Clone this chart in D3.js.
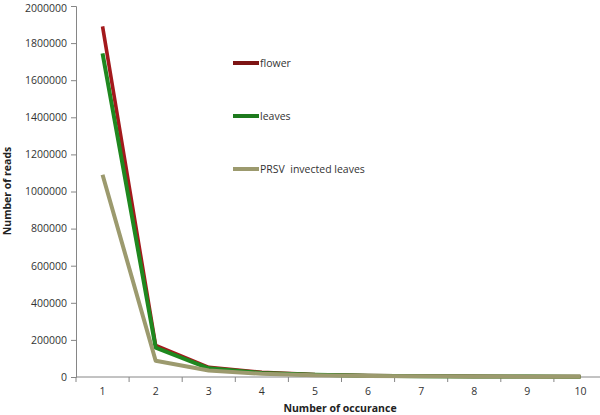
<!DOCTYPE html>
<html><head><meta charset="utf-8">
<script src="https://cdn.jsdelivr.net/npm/d3@7"></script>
<style>body{margin:0;background:#fff}svg{display:block}</style>
</head><body>
<svg id="c" width="600" height="415"></svg>
<script>
const categories = [1,2,3,4,5,6,7,8,9,10];
const flower = [1890000, 170000, 52000, 25000, 13000, 8000, 5000, 3500, 2500, 2000];
const leaves = [1745000, 158000, 47000, 22000, 12000, 7000, 4500, 3000, 2200, 1800];
const prsv   = [1090000, 88000, 35000, 17000, 10000, 6000, 4000, 2800, 2000, 1600];
const seriesNames = ["flower", "leaves", "PRSV  invected leaves"];
const yTicks = [0,200000,400000,600000,800000,1000000,1200000,1400000,1600000,1800000,2000000];

const svg = d3.select("#c");
const font = "'Open Sans', 'Liberation Sans', sans-serif";
const axisColor = "#868686";

const x = d3.scaleBand().domain(categories).range([76, 607]);
const y = d3.scaleLinear().domain([0, 2000000]).range([377, 6]);

// Y axis
const ya = svg.append("g").attr("transform","translate(76,0)")
  .call(d3.axisLeft(y).tickValues(yTicks).tickSize(5).tickPadding(4).tickFormat(d3.format("d")));
ya.select(".domain").attr("stroke", axisColor);
ya.selectAll(".tick line").attr("stroke", axisColor);
ya.selectAll("text").attr("font-family", font).attr("font-size", 10.5).attr("fill","#333");
ya.selectAll(".tick").filter(d => d === 2000000).select("text").attr("dy", "0.5em");

// X axis
const xa = svg.append("g").attr("transform","translate(0,377)")
  .call(d3.axisBottom(x).tickSize(0).tickPadding(11));
xa.select(".domain").attr("stroke", axisColor).attr("d","M76,0H607");
xa.selectAll(".tick line").remove();
xa.selectAll("text").attr("font-family", font).attr("font-size", 10.5).attr("fill","#333");
// category boundary ticks
const bounds = categories.map(c => x(c));
xa.selectAll(".bt").data(bounds).enter().append("line")
  .attr("x1", d=>d).attr("x2", d=>d).attr("y1",0).attr("y2",5).attr("stroke", axisColor);

// Lines
const line = d3.line().x((d,i)=>x(categories[i]) + x.bandwidth()/2).y(d=>y(d));
const series = [
  {name: seriesNames[0], values: flower, color: "#a3191c", w: 3.6},
  {name: seriesNames[1], values: leaves, color: "#1f881f", w: 4},
  {name: seriesNames[2], values: prsv,   color: "#9c9a6e", w: 4}
];
series.forEach(s => {
  svg.append("path").datum(s.values).attr("d", line)
    .attr("fill","none").attr("stroke", s.color).attr("stroke-width", s.w)
    .attr("stroke-linejoin","round");
});

// Legend
const legY = [63, 116, 169];
const legColors = ["#7d1414", "#1d7a1d", "#9c9a6e"];
series.forEach((s,i) => {
  svg.append("line").attr("x1",233).attr("x2",259).attr("y1",legY[i]).attr("y2",legY[i])
    .attr("stroke", legColors[i]).attr("stroke-width",4);
  svg.append("text").attr("x",260).attr("y",legY[i]+4).text(s.name)
    .attr("font-family", font).attr("font-size", 10.5).attr("fill","#333")
    .style("white-space","pre").attr("xml:space","preserve");
});

// Axis titles
svg.append("text").attr("transform","translate(11,191) rotate(-90)")
  .attr("text-anchor","middle").attr("font-family", font).attr("font-size", 10.5)
  .attr("font-weight","bold").attr("fill","#222").text("Number of reads");
svg.append("text").attr("x",340).attr("y",412).attr("text-anchor","middle")
  .attr("font-family", font).attr("font-size", 10.5).attr("font-weight","bold")
  .attr("fill","#222").text("Number of occurance");
</script>
</body></html>
